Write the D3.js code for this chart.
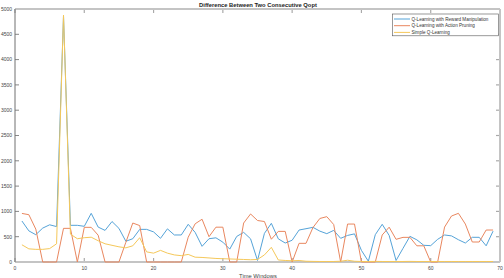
<!DOCTYPE html>
<html><head><meta charset="utf-8">
<script src="https://cdn.jsdelivr.net/npm/d3@7"></script>
<style>body{margin:0;background:#fff}svg{display:block}text{font-family:"Liberation Sans",Arial,sans-serif}</style>
</head><body>
<svg id="c" width="504" height="278"></svg>
<script>
const windows = d3.range(1, 70);
const rewardManipulation = [810,615,540,670,735,700,4860,725,725,705,962,690,625,800,665,410,460,645,645,595,468,655,534,534,745,585,310,460,478,392,255,505,586,458,30,566,764,458,375,430,632,658,685,610,560,625,468,525,556,230,15,540,745,525,30,270,507,438,330,323,448,534,516,440,375,488,488,320,610];
const actionPruning = [960,935,650,0,0,0,665,665,0,685,685,530,0,0,0,390,770,720,0,0,0,0,0,0,490,755,845,500,688,688,0,0,770,949,820,800,450,605,605,0,369,369,680,860,896,740,0,750,750,0,0,0,534,688,448,487,487,320,320,0,0,690,909,962,750,395,395,632,632];
const simpleQ = [340,260,250,250,265,360,4880,550,460,480,490,420,360,330,300,280,320,480,200,175,230,175,140,125,150,95,90,80,70,65,60,55,50,45,50,140,290,40,30,25,30,15,12,10,10,10,15,35,15,10,10,12,10,10,10,10,12,10,10,10,10,10,10,10,10,10,10,10,10];
const seriesNames = ["Q-Learning with Reward Manipulation","Q-Learning with Action Pruning","Simple Q-Learning"];
const seriesColors = ["#55a3d8","#e9875f","#f5c85a"];
const xTicks = [0,10,20,30,40,50,60,70];
const yTicks = d3.range(0, 5001, 500);
const title = "Difference Between Two Consecutive Qopt";
const xLabel = "Time Windows";

const svg = d3.select("#c");
const L = 15, R = 500, T = 9, B = 262;
const x = d3.scaleLinear().domain([0,70]).range([L,R]);
const y = d3.scaleLinear().domain([0,5000]).range([B,T]);

// ticks inside box
const g = svg.append("g");
g.selectAll(".xt").data(xTicks).join("line")
  .attr("x1", d=>x(d)).attr("x2", d=>x(d)).attr("y1", B).attr("y2", B-4)
  .attr("stroke","#aaa").attr("stroke-width",1.2);
g.selectAll(".xtt").data(xTicks).join("line")
  .attr("x1", d=>x(d)).attr("x2", d=>x(d)).attr("y1", T).attr("y2", T+4)
  .attr("stroke","#aaa").attr("stroke-width",1.2);
g.selectAll(".yt").data(yTicks).join("line")
  .attr("x1", L).attr("x2", L+4).attr("y1", d=>y(d)).attr("y2", d=>y(d))
  .attr("stroke","#888").attr("stroke-width",1);
g.selectAll(".ytr").data(yTicks).join("line")
  .attr("x1", R).attr("x2", R-4).attr("y1", d=>y(d)).attr("y2", d=>y(d))
  .attr("stroke","#aaa").attr("stroke-width",1.2);

// box (bottom/top/right light)
svg.append("line").attr("x1",L).attr("x2",R).attr("y1",T).attr("y2",T).attr("stroke","#c4c4c4").attr("stroke-width",2);
svg.append("line").attr("x1",L).attr("x2",R).attr("y1",B).attr("y2",B).attr("stroke","#c4c4c4").attr("stroke-width",2);
svg.append("line").attr("x1",R).attr("x2",R).attr("y1",T).attr("y2",B).attr("stroke","#c4c4c4").attr("stroke-width",2);

// lines (MATLAB order: last series on top)
const data = [rewardManipulation, actionPruning, simpleQ];
const line = d3.line().x((d,i)=>x(windows[i])).y(d=>y(d));
[0,1,2].forEach(k=>{
  svg.append("path").attr("d", line(data[k])).attr("fill","none")
    .attr("stroke", seriesColors[k]).attr("stroke-width",1).attr("stroke-linejoin","round");
});

svg.append("line").attr("x1",L).attr("x2",L).attr("y1",T).attr("y2",B).attr("stroke","#707070").attr("stroke-width",1);

// tick labels
svg.selectAll(".yl").data(yTicks).join("text")
  .attr("x", 12).attr("y", d=>y(d)+1.8).attr("text-anchor","end")
  .attr("font-size",5).attr("fill","#444").text(d=>d);
svg.selectAll(".xl").data(xTicks).join("text")
  .attr("x", d=>x(d)).attr("y", 270).attr("text-anchor","middle")
  .attr("font-size",5).attr("fill","#444").text(d=>d);
svg.append("text").attr("x", 258).attr("y", 277.5).attr("text-anchor","middle")
  .attr("font-size",5.8).attr("fill","#444").text(xLabel);
svg.append("text").attr("x", 258).attr("y", 7.2).attr("text-anchor","middle")
  .attr("font-size",5.8).attr("font-weight","bold").attr("fill","#222").text(title);

// legend
const lg = svg.append("g");
lg.append("rect").attr("x",392.5).attr("y",14).attr("width",106).attr("height",21.8)
  .attr("fill","#fff").attr("stroke","#555").attr("stroke-width",0.6);
seriesNames.forEach((n,i)=>{
  const yy = 19 + i*6.7;
  lg.append("line").attr("x1",394).attr("x2",410).attr("y1",yy).attr("y2",yy)
    .attr("stroke",seriesColors[i]).attr("stroke-width",1);
  lg.append("text").attr("x",411.5).attr("y",yy+1.6).attr("font-size",4.6).attr("fill","#333").text(n);
});
</script>
</body></html>
